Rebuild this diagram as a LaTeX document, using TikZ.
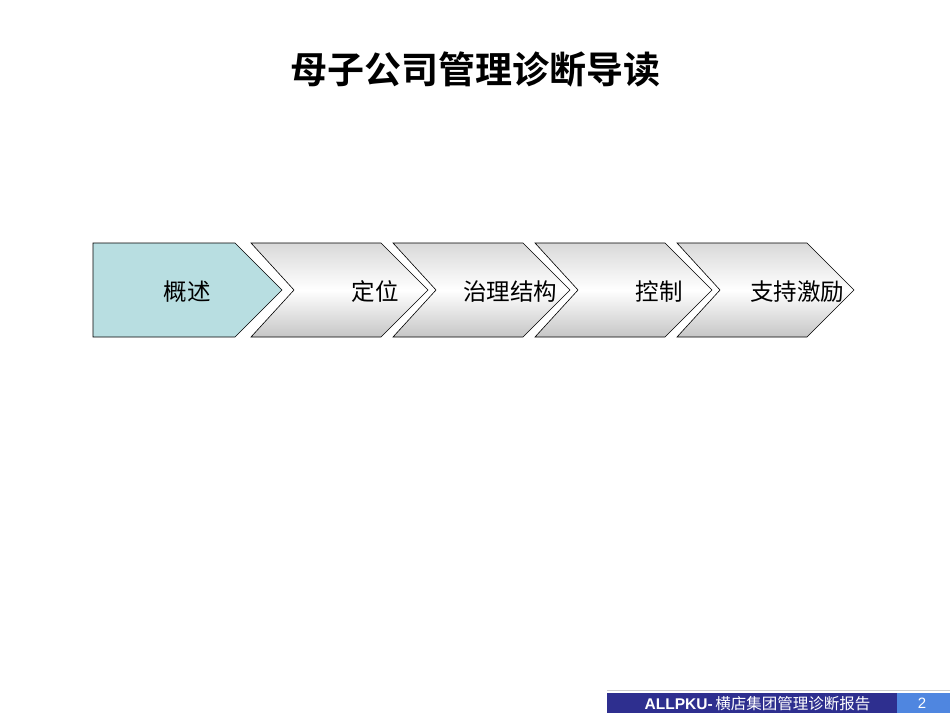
\documentclass[tikz,border=0pt]{standalone}
\usepackage{fontspec}
\setmainfont{Liberation Sans}
\newfontfamily\cjk{Noto Sans CJK SC}
\newfontfamily\cjkb{Noto Sans CJK SC Bold}
\usetikzlibrary{shapes.geometric}
\definecolor{firstfill}{HTML}{B8DEE1}
\definecolor{footdark}{HTML}{2E2F8F}
\definecolor{footlight}{HTML}{4F86E0}
\tikzset{
  chev/.style={draw=black, line width=0.6pt, top color=gray!30, bottom color=gray!45, middle color=white, shading angle=0},
  firstchev/.style={draw=black, line width=0.6pt, fill=firstfill},
  lbl/.style={font=\cjk\fontsize{23.5}{26}\selectfont, text=black},
}
\begin{document}
\begin{tikzpicture}[x=1pt,y=-1pt]
\useasboundingbox (0,0) rectangle (950,713);
\fill[white] (0,0) rectangle (950,713);
% title
\node[font=\cjkb\fontsize{37}{40}\selectfont] (title) at (475,69) {母子公司管理诊断导读};
% chevrons
\draw[firstchev] (93,243) -- (235,243) -- (282,290) -- (235,337) -- (93,337) -- cycle;
\foreach \x in {251,393,535,677}{
  \draw[chev] (\x,243) -- (\x+130,243) -- (\x+177,290) -- (\x+130,337) -- (\x,337) -- (\x+43,290) -- cycle;
}
\node[lbl] (a) at (187,292) {概述};
\node[lbl] (b) at (375,292) {定位};
\node[lbl] (c) at (510,292) {治理结构};
\node[lbl] (d) at (659,292) {控制};
\node[lbl] (e) at (797,292) {支持激励};
% footer
\draw[gray!40, line width=0.8pt] (607,690) -- (950,690);
\fill[footdark] (607,693) rectangle (897,713);
\fill[footlight] (897,693) rectangle (950,713);
\node[text=white, anchor=center] (foot) at (757.5,703.5) {\fontsize{15.5}{17}\selectfont\bfseries ALLPKU-\,\cjk\mdseries 横店集团管理诊断报告};
\node[text=white] (page) at (922,703.5) {\fontsize{15}{16}\selectfont 2};
\end{tikzpicture}
\end{document}
